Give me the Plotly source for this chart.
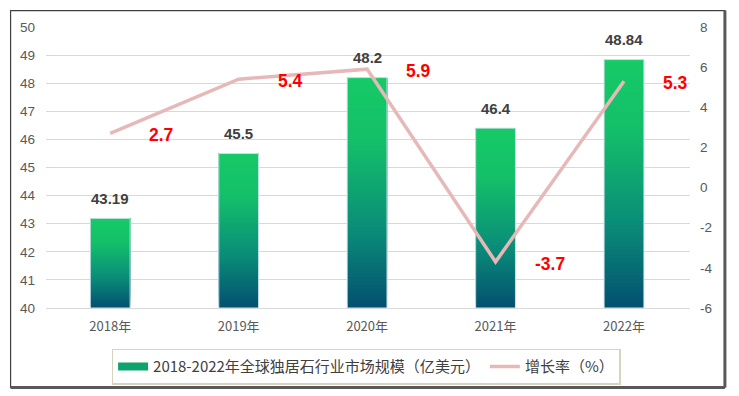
import plotly.graph_objects as go

years = ["2018年", "2019年", "2020年", "2021年", "2022年"]
market_size = [43.19, 45.5, 48.2, 46.4, 48.84]
growth_rate = [2.7, 5.4, 5.9, -3.7, 5.3]
size_labels = ["43.19", "45.5", "48.2", "46.4", "48.84"]
rate_labels = ["2.7", "5.4", "5.9", "-3.7", "5.3"]
right_ticks = [-6, -4, -2, 0, 2, 4, 6, 8]
bar_name = "2018-2022年全球独居石行业市场规模（亿美元）"
line_name = "增长率（%）"

BASE = 40
N = 60
BW = 0.31
stops = [(0.0, (0x16, 0xCA, 0x66)), (0.28, (0x14, 0xBF, 0x69)),
         (0.65, (0x0A, 0x8E, 0x78)), (1.0, (0x03, 0x50, 0x70))]


def grad(t):
    for (t0, c0), (t1, c1) in zip(stops[:-1], stops[1:]):
        if t <= t1:
            f = (t - t0) / (t1 - t0)
            return "rgb(%d,%d,%d)" % tuple(round(a + (b - a) * f) for a, b in zip(c0, c1))
    return "rgb(%d,%d,%d)" % stops[-1][1]


fig = go.Figure()
# gradient bars: each layer runs from its base up to the bar top; later layers cover earlier
for k in range(N):
    seg = [(v - BASE) / N for v in market_size]
    base = [BASE + k * s for s in seg]
    heights = [v - b for v, b in zip(market_size, base)]
    t = 1 - (k + 0.5) / N  # 0 top, 1 bottom
    fig.add_trace(go.Bar(x=years, y=heights, base=base,
                         marker=dict(color=grad(t), line=dict(width=0)),
                         width=BW, showlegend=False, hoverinfo="skip"))
# outline
fig.add_trace(go.Bar(x=years, y=[v - BASE for v in market_size], base=[BASE] * 5,
                     width=BW, showlegend=False, hoverinfo="skip",
                     marker=dict(color="rgba(0,0,0,0)", line=dict(color="#CFE3EE", width=1))))
# legend entry for bars
fig.add_trace(go.Scatter(x=[years[0]], y=[None], mode="lines", name=bar_name,
                         line=dict(color="#0FA46F", width=8)))
fig.add_trace(go.Scatter(x=years, y=growth_rate, yaxis="y2", mode="lines", name=line_name,
                         line=dict(color="#E6B9B8", width=3.5)))

for yr, v, lab in zip(years, market_size, size_labels):
    fig.add_annotation(x=yr, y=v, text="<b>%s</b>" % lab, showarrow=False, yshift=20,
                       font=dict(family="Liberation Sans", size=15, color="#404040"))
for yr, g, lab in zip(years, growth_rate, rate_labels):
    fig.add_annotation(x=yr, y=g, yref="y2", text="<b>%s</b>" % lab, showarrow=False,
                       xanchor="left", xshift=37, yshift=-2,
                       font=dict(family="Liberation Sans", size=17.5, color="#FF0000"))

fig.update_layout(
    width=739, height=396,
    margin=dict(l=36, r=57, t=17, b=96),
    paper_bgcolor="white", plot_bgcolor="white",
    barmode="overlay",
    font=dict(family="Noto Sans CJK SC", size=12, color="#595959"),
    xaxis=dict(type="category", showgrid=False, showline=True, linecolor="#D9D9D9",
               linewidth=1, ticks="", ticklabelstandoff=6,
               tickfont=dict(size=13, color="#595959")),
    yaxis=dict(range=[40, 50], dtick=1, showgrid=True, gridcolor="#D9D9D9",
               zeroline=False, ticks="", ticklabelstandoff=10,
               tickfont=dict(family="Liberation Sans", size=13.5, color="#595959")),
    yaxis2=dict(range=[-6, 8], tickvals=right_ticks, ticktext=[str(v) for v in right_ticks],
                overlaying="y", side="right", showgrid=False,
                zeroline=False, ticks="", ticklabelstandoff=9,
                tickfont=dict(family="Liberation Sans", size=13.5, color="#595959")),
    legend=dict(orientation="h", x=0.497, xanchor="center", y=-0.145, yanchor="top",
                bordercolor="#D6D3BE", borderwidth=1.5,
                font=dict(size=15, color="#404040"), tracegroupgap=0),
    shapes=[
        dict(type="rect", xref="paper", yref="paper",
             x0=-0.055, x1=1.0542, y0=-0.2827, y1=1.0583,
             line=dict(color="#404040", width=1.2)),
        dict(type="line", xref="paper", yref="paper",
             x0=1.0542, x1=1.0542, y0=-0.2827, y1=1.0583,
             line=dict(color="#595959", width=3)),
        dict(type="line", xref="paper", yref="paper",
             x0=-0.055, x1=1.0542, y0=-0.2827, y1=-0.2827,
             line=dict(color="#595959", width=3)),
    ],
)

fig.write_html("out.html")
